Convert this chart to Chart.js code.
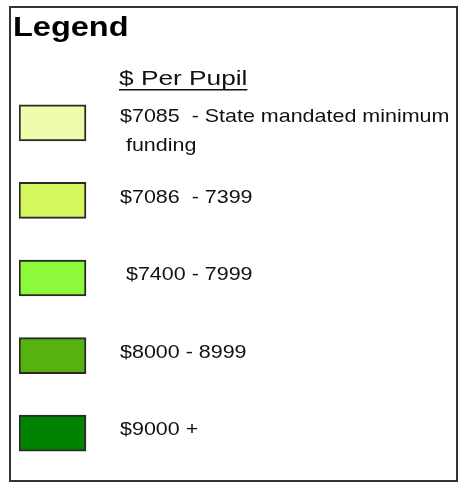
<!DOCTYPE html>
<html>
<head>
<meta charset="utf-8">
<script src="https://cdn.jsdelivr.net/npm/chart.js@4/dist/chart.umd.min.js"></script>
<style>
  html, body { margin: 0; padding: 0; background: #fff; }
  #wrap { width: 461px; height: 483px; position: relative; }
</style>
</head>
<body>
<div id="wrap"><canvas id="legendChart"></canvas></div>
<script>
// legend classes, $ per pupil
const binLabels = [
  ["$7085  - State mandated minimum", " funding"],
  ["$7086  - 7399"],
  [" $7400 - 7999"],
  ["$8000 - 8999"],
  ["$9000 +"]
];
const binMin = [7085, 7086, 7400, 8000, 9000];
const binColors = ["#ecfcaa", "#d5f65c", "#8cfa3a", "#56b30f", "#008300"];
const swatchSize = [1, 1, 1, 1, 1]; // every swatch the same width

const FONT = "'Liberation Sans', Arial, sans-serif";

// frame, title, subtitle and row text
const legendDecor = {
  id: "legendDecor",
  beforeDraw(chart) {
    const ctx = chart.ctx;
    ctx.save();
    ctx.fillStyle = "#fff";
    ctx.fillRect(0, 0, chart.width, chart.height);
    ctx.strokeStyle = "#333";
    ctx.lineWidth = 2;
    ctx.strokeRect(10, 7, 447, 474);
    ctx.restore();
  },
  afterDatasetsDraw(chart) {
    const ctx = chart.ctx;
    const y = chart.scales.y;
    ctx.save();
    ctx.fillStyle = "#000";
    ctx.textBaseline = "middle";

    // "Legend"
    ctx.font = "bold 28px " + FONT;
    ctx.save();
    ctx.translate(13, 28);
    ctx.scale(1.16, 1);
    ctx.fillText("Legend", 0, 0);
    ctx.restore();

    // "$ Per Pupil" underlined
    ctx.fillStyle = "#111";
    ctx.font = "21px " + FONT;
    ctx.save();
    ctx.translate(119, 79);
    ctx.scale(1.25, 1);
    ctx.fillText("$ Per Pupil", 0, 0);
    const w = ctx.measureText("$ Per Pupil").width;
    ctx.fillRect(0, 10, w, 1.5);
    ctx.restore();

    ctx.font = "19px " + FONT;
    binLabels.forEach((lines, i) => {
      const cy = y.getPixelForValue(i);
      const top = lines.length > 1 ? cy - 6 : cy - 3;
      lines.forEach((t, k) => {
        ctx.save();
        ctx.translate(120, top + k * 29);
        ctx.scale(1.13, 1);
        ctx.fillText(t, 0, 0);
        ctx.restore();
      });
    });
    ctx.restore();
  }
};

new Chart(document.getElementById("legendChart"), {
  type: "bar",
  data: {
    labels: binMin.map(String),
    datasets: [{
      data: swatchSize,
      backgroundColor: binColors,
      borderColor: "#2a2a2a",
      borderWidth: 2,
      borderSkipped: false,
      barThickness: 36
    }]
  },
  options: {
    indexAxis: "y",
    responsive: true,
    maintainAspectRatio: false,
    animation: false,
    layout: { padding: { left: 19, right: 40, top: 84, bottom: 11 } },
    plugins: { legend: { display: false }, tooltip: { enabled: false } },
    scales: {
      x: { display: false, min: 0, max: 6 },
      y: { display: false }
    }
  },
  plugins: [legendDecor]
});
</script>
</body>
</html>
